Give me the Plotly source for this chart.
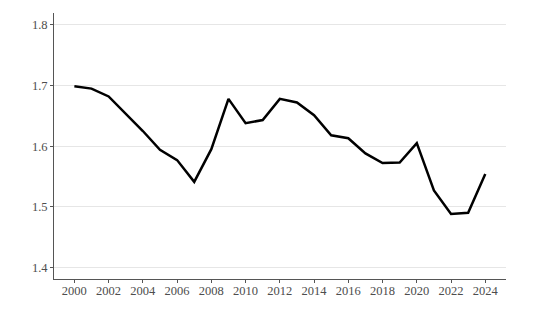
import plotly.graph_objects as go

years = list(range(2000, 2025))
values = [1.699, 1.695, 1.682, 1.654, 1.625, 1.594, 1.577, 1.541, 1.595, 1.678,
          1.638, 1.643, 1.678, 1.672, 1.651, 1.618, 1.613, 1.588, 1.572, 1.573,
          1.605, 1.527, 1.488, 1.490, 1.554]
y_ticks = [1.4, 1.5, 1.6, 1.7, 1.8]
x_ticks = list(range(2000, 2025, 2))

fig = go.Figure(go.Scatter(x=years, y=values, mode="lines",
                           line=dict(color="black", width=2.5)))

fig.update_layout(
    width=554, height=311,
    margin=dict(l=54, r=48, t=13, b=32),
    paper_bgcolor="white", plot_bgcolor="white",
    font=dict(family="Liberation Serif", size=12.5, color="#4d4d4d"),
    showlegend=False,
    xaxis=dict(range=[1998.81, 2025.21], tickvals=x_ticks, showgrid=False,
               showline=True, linecolor="#555555", linewidth=1,
               ticks="outside", ticklen=3, tickcolor="#555555", zeroline=False,
               ticklabelstandoff=-3),
    yaxis=dict(range=[1.3807, 1.8198], tickvals=y_ticks, ticktext=[f"{v:.1f}" for v in y_ticks],
               showgrid=True, gridcolor="#e6e6e6", gridwidth=1,
               showline=True, linecolor="#555555", linewidth=1,
               ticks="outside", ticklen=3, tickcolor="#555555", zeroline=False),
)

fig.write_html("out.html", config={"displayModeBar": False},
               post_script="document.body.style.margin='0';document.body.style.padding='0';")
